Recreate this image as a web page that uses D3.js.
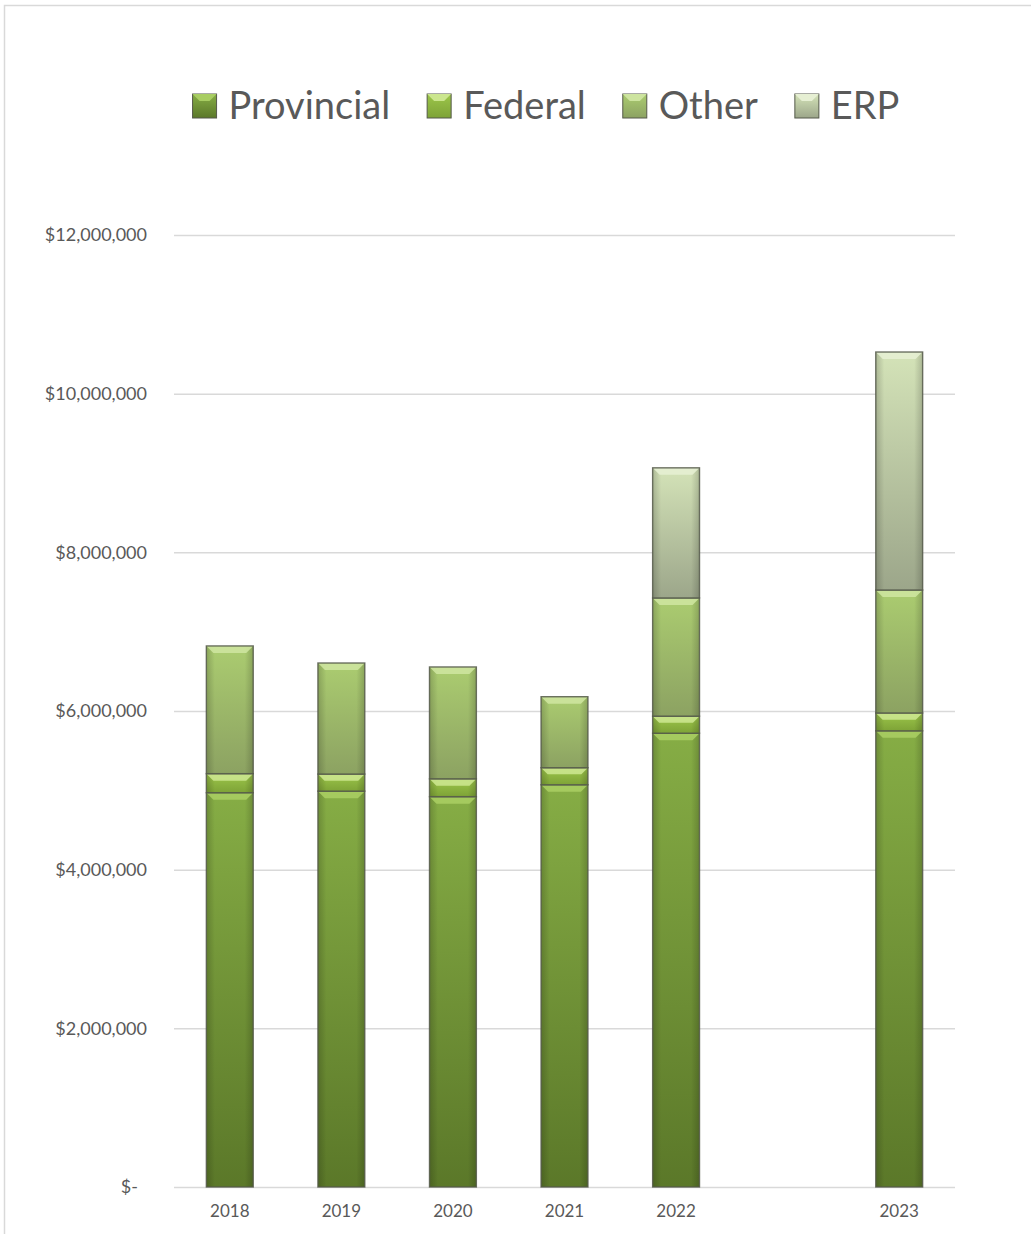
<!DOCTYPE html>
<html>
<head>
<meta charset="utf-8">
<script src="https://cdn.jsdelivr.net/npm/d3@7"></script>
<style>
  body { margin: 0; background: #fff; }
  text { font-family: Lato, "Open Sans", sans-serif; fill: #595959; }
</style>
</head>
<body>
<div id="chart"></div>
<script>
/* ---- data (one blank slot between 2022 and 2023) ---- */
var categories = ["2018", "2019", "2020", "2021", "2022", "", "2023"];
var provincial = [4970000, 4990000, 4920000, 5070000, 5720000, 0, 5750000];
var federal    = [240000, 215000, 225000, 215000, 215000, 0, 225000];
var other      = [1610000, 1400000, 1410000, 895000, 1490000, 0, 1550000];
var erp        = [0, 0, 0, 0, 1640000, 0, 3000000];
var seriesNames = ["Provincial", "Federal", "Other", "ERP"];
var yTicks = [0, 2000000, 4000000, 6000000, 8000000, 10000000, 12000000];

// colours: top of gradient, bottom of gradient, bevel highlight
var palette = {
    Provincial: ["#86ad45", "#5b7829", "#a8cd62"],
    Federal:    ["#9cc64a", "#7ea337", "#cbe68e"],
    Other:      ["#abcc70", "#8ca262", "#cde49f"],
    ERP:        ["#d4e3b8", "#9ca68a", "#e6efd3"]
};

var rows = categories.map(function(c, i) {
    return { cat: c, Provincial: provincial[i], Federal: federal[i], Other: other[i], ERP: erp[i] };
});

function drawChart() {
    var W = 1031, H = 1234;
    var svg = d3.select("#chart").append("svg")
        .attr("width", W)
        .attr("height", H);

    // chart area border
    svg.append("rect")
        .attr("x", 4.5).attr("y", 5.5)
        .attr("width", W + 20).attr("height", H + 20)
        .attr("fill", "none")
        .attr("stroke", "#d9d9d9")
        .attr("stroke-width", 1.5);

    var defs = svg.append("defs");
    seriesNames.forEach(function(k) {
        var g = defs.append("linearGradient")
            .attr("id", "g-" + k)
            .attr("x1", 0).attr("y1", 0).attr("x2", 0).attr("y2", 1);
        g.append("stop").attr("offset", "0%").attr("stop-color", palette[k][0]);
        g.append("stop").attr("offset", "100%").attr("stop-color", palette[k][1]);
    });
    // side shading so bars look rounded
    var side = defs.append("linearGradient").attr("id", "side")
        .attr("x1", 0).attr("y1", 0).attr("x2", 1).attr("y2", 0);
    side.append("stop").attr("offset", "0%").attr("stop-color", "#000").attr("stop-opacity", 0.18);
    side.append("stop").attr("offset", "18%").attr("stop-color", "#000").attr("stop-opacity", 0);
    side.append("stop").attr("offset", "82%").attr("stop-color", "#000").attr("stop-opacity", 0);
    side.append("stop").attr("offset", "100%").attr("stop-color", "#000").attr("stop-opacity", 0.18);

    var plotL = 174, plotR = 955, plotT = 235, plotB = 1187;

    var x = d3.scaleBand()
        .domain(categories)
        .range([plotL, plotR])
        .paddingInner(0.58)
        .paddingOuter(0.29);

    var y = d3.scaleLinear()
        .domain([0, 12000000])
        .range([plotB, plotT]);

    // gridlines + y labels
    var yAxis = svg.append("g")
        .attr("transform", "translate(" + plotL + ",0)")
        .call(d3.axisLeft(y)
            .tickValues(yTicks)
            .tickSize(-(plotR - plotL))
            .tickPadding(27)
            .tickFormat(function(d) { return d === 0 ? "$-" : "$" + d3.format(",")(d); }));
    yAxis.select(".domain").remove();
    yAxis.selectAll(".tick line").attr("stroke", "#d9d9d9").attr("stroke-width", 1.5);
    yAxis.selectAll(".tick text")
        .attr("font-size", 18)
        .attr("fill", "#666")
        .style("font-family", "Lato, sans-serif")
        .attr("dx", function(d) { return d === 0 ? -9 : 0; });

    // x labels
    var xAxis = svg.append("g")
        .attr("transform", "translate(0," + plotB + ")")
        .call(d3.axisBottom(x).tickSize(0).tickPadding(18));
    xAxis.select(".domain").remove();
    xAxis.selectAll(".tick text")
        .attr("font-size", 17)
        .attr("fill", "#666")
        .style("font-family", "Lato, sans-serif");

    // stacked bars
    var stack = d3.stack().keys(seriesNames)(rows);

    var layers = svg.append("g").selectAll("g")
        .data(stack)
        .enter().append("g");

    var seg = layers.selectAll("g")
        .data(function(s) {
            return s.map(function(d) { return { key: s.key, y0: d[0], y1: d[1], cat: d.data.cat }; })
                .filter(function(d) { return d.y1 - d.y0 > 0; });
        })
        .enter().append("g");

    seg.append("rect")
        .attr("x", function(d) { return x(d.cat); })
        .attr("y", function(d) { return y(d.y1); })
        .attr("width", x.bandwidth())
        .attr("height", function(d) { return y(d.y0) - y(d.y1); })
        .attr("fill", function(d) { return "url(#g-" + d.key + ")"; });

    seg.append("rect")
        .attr("x", function(d) { return x(d.cat); })
        .attr("y", function(d) { return y(d.y1); })
        .attr("width", x.bandwidth())
        .attr("height", function(d) { return y(d.y0) - y(d.y1); })
        .attr("fill", "url(#side)");

    // bevel on top of each segment
    seg.append("polygon")
        .attr("points", function(d) {
            var x0 = x(d.cat), w = x.bandwidth(), yt = y(d.y1);
            var b = Math.min(7, (y(d.y0) - yt) / 2.6);
            return [[x0, yt], [x0 + w, yt], [x0 + w - b, yt + b], [x0 + b, yt + b]].join(" ");
        })
        .attr("fill", function(d) { return palette[d.key][2]; })
        .attr("opacity", 0.9);

    seg.append("rect")
        .attr("x", function(d) { return x(d.cat); })
        .attr("y", function(d) { return y(d.y1); })
        .attr("width", x.bandwidth())
        .attr("height", function(d) { return y(d.y0) - y(d.y1); })
        .attr("fill", "none")
        .attr("stroke", "#55594a")
        .attr("stroke-opacity", 0.85)
        .attr("stroke-width", 1.4);

    // legend
    var legend = svg.append("g");
    var lx = 0, gap = 37;
    seriesNames.forEach(function(k) {
        var item = legend.append("g").attr("transform", "translate(" + lx + ",0)");
        item.append("rect")
            .attr("x", 0).attr("y", -25)
            .attr("width", 24).attr("height", 24)
            .attr("fill", "url(#g-" + k + ")")
            .attr("stroke", "#55594a").attr("stroke-width", 1);
        item.append("polygon")
            .attr("points", "0,-25 24,-25 17,-18 7,-18")
            .attr("fill", palette[k][2]);
        var t = item.append("text")
            .attr("x", 36).attr("y", 0)
            .attr("font-size", 38)
            .attr("fill", "#595959")
            .text(k);
        lx += 36 + t.node().getComputedTextLength() + gap;
    });
    var legendW = lx - gap;
    legend.attr("transform", "translate(" + (546 - legendW / 2) + ",119)");
}

drawChart();
</script>
</body>
</html>
